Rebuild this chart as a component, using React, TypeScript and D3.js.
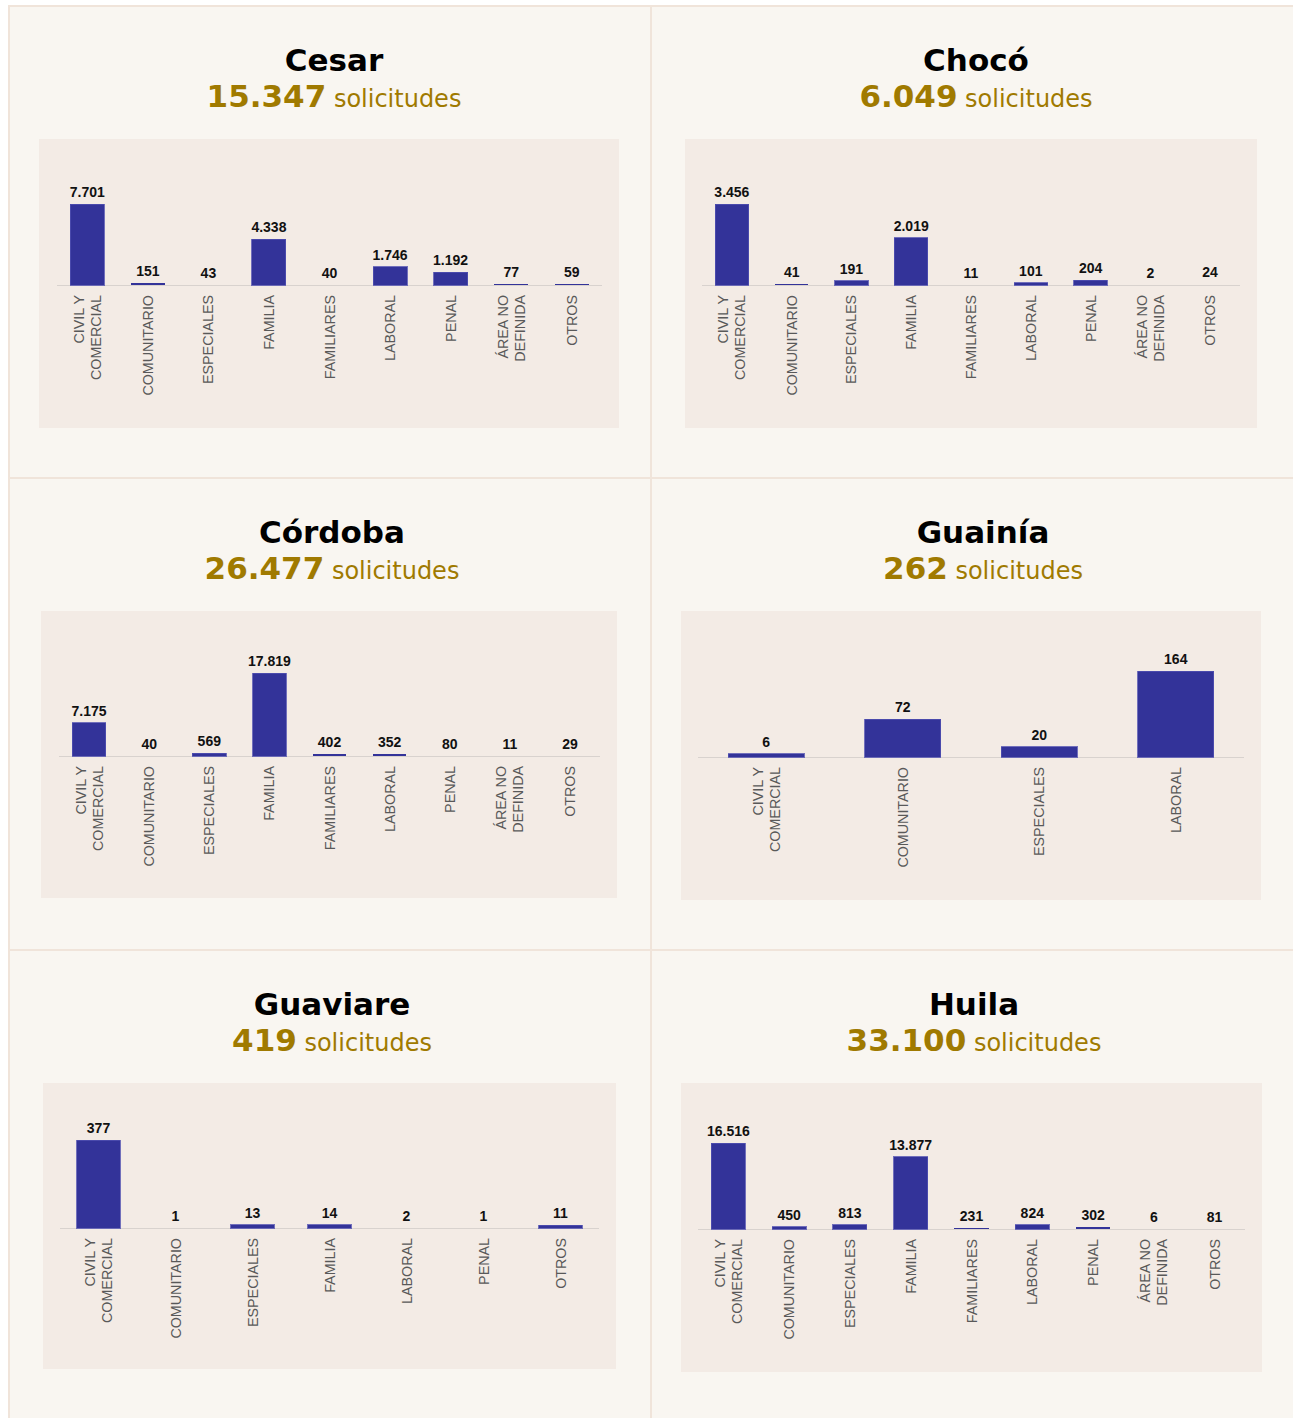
import React from "react";
import * as d3 from "d3";

// ---------- DATA ----------
const categoriesFull = [
  "CIVIL Y\nCOMERCIAL",
  "COMUNITARIO",
  "ESPECIALES",
  "FAMILIA",
  "FAMILIARES",
  "LABORAL",
  "PENAL",
  "ÁREA NO\nDEFINIDA",
  "OTROS",
];
const categoriesGuainia = ["CIVIL Y\nCOMERCIAL", "COMUNITARIO", "ESPECIALES", "LABORAL"];
const categoriesGuaviare = [
  "CIVIL Y\nCOMERCIAL",
  "COMUNITARIO",
  "ESPECIALES",
  "FAMILIA",
  "LABORAL",
  "PENAL",
  "OTROS",
];

const cesarValues = [7701, 151, 43, 4338, 40, 1746, 1192, 77, 59];
const chocoValues = [3456, 41, 191, 2019, 11, 101, 204, 2, 24];
const cordobaValues = [7175, 40, 569, 17819, 402, 352, 80, 11, 29];
const guainiaValues = [6, 72, 20, 164];
const guaviareValues = [377, 1, 13, 14, 2, 1, 11];
const huilaValues = [16516, 450, 813, 13877, 231, 824, 302, 6, 81];

const departments = ["Cesar", "Chocó", "Córdoba", "Guainía", "Guaviare", "Huila"];

// ---------- LAYOUT ----------
const W = 1293;
const H = 1418;
const BAR = "#333399";
const GOLD = "#a07a00";
const CELL_BG = "#f9f6f1";
const BORDER = "#f0e4da";
const PANEL_BG = "#f3ebe5";

const layouts = [
  { tx: 334, ty: 71, panel: [39, 139, 619, 428], axisY: 285, ax: [57, 602], maxH: 81 },
  { tx: 976, ty: 71, panel: [685, 139, 1257, 428], axisY: 285, ax: [702, 1240], maxH: 81 },
  { tx: 332, ty: 543, panel: [41, 611, 617, 898], axisY: 756, ax: [59, 600], maxH: 83 },
  { tx: 983, ty: 543, panel: [681, 611, 1261, 900], axisY: 757, ax: [698, 1244], maxH: 86 },
  { tx: 332, ty: 1015, panel: [43, 1083, 616, 1369], axisY: 1228, ax: [60, 599], maxH: 88 },
  { tx: 974, ty: 1015, panel: [681, 1083, 1262, 1372], axisY: 1229, ax: [698, 1245], maxH: 86 },
];

const seriesList = [
  { cats: categoriesFull, vals: cesarValues },
  { cats: categoriesFull, vals: chocoValues },
  { cats: categoriesFull, vals: cordobaValues },
  { cats: categoriesGuainia, vals: guainiaValues },
  { cats: categoriesGuaviare, vals: guaviareValues },
  { cats: categoriesFull, vals: huilaValues },
];

const locale = d3.formatLocale({
  decimal: ",",
  thousands: ".",
  grouping: [3],
  currency: ["", ""],
});
const fmt = locale.format(",d");

function Chart({ idx }: { idx: number }) {
  const L = layouts[idx];
  const { cats, vals } = seriesList[idx];
  const total = d3.sum(vals);
  const x = d3
    .scaleBand<string>()
    .domain(cats)
    .range([L.ax[0], L.ax[1]])
    .paddingInner(0.44)
    .paddingOuter(0.22);
  const y = d3
    .scaleLinear()
    .domain([0, d3.max(vals) as number])
    .range([L.axisY, L.axisY - L.maxH]);
  const [px0, py0, px1, py1] = L.panel;
  return (
    <g>
      <text
        x={L.tx}
        y={L.ty}
        textAnchor="middle"
        fontFamily="DejaVu Sans, Verdana, sans-serif"
        fontWeight="bold"
        fontSize={31}
        fill="#000"
      >
        {departments[idx]}
      </text>
      <text
        x={L.tx}
        y={L.ty + 36}
        textAnchor="middle"
        fontFamily="DejaVu Sans, Verdana, sans-serif"
        fill={GOLD}
      >
        <tspan fontWeight="bold" fontSize={31}>
          {fmt(total)}
        </tspan>
        <tspan fontSize={24}> solicitudes</tspan>
      </text>
      <rect x={px0} y={py0} width={px1 - px0} height={py1 - py0} fill={PANEL_BG} />
      <line x1={L.ax[0]} x2={L.ax[1]} y1={L.axisY + 0.5} y2={L.axisY + 0.5} stroke="#d8d2ce" strokeWidth={1} />
      {cats.map((c, i) => {
        const bx = x(c) as number;
        const bw = x.bandwidth();
        const top = y(vals[i]);
        const h = L.axisY - top;
        const cx = bx + bw / 2;
        const lines = c.split("\n");
        return (
          <g key={c}>
            {h >= 0.6 && (
              <rect
                x={bx}
                y={top}
                width={bw}
                height={h}
                fill={BAR}
                stroke={h > 2 ? "#5050b0" : "none"}
                strokeWidth={0.8}
                shapeRendering="crispEdges"
              />
            )}
            <text
              x={cx}
              y={top - 7}
              textAnchor="middle"
              fontFamily="Liberation Sans, Arial, sans-serif"
              fontWeight="bold"
              fontSize={14}
              fill="#111"
            >
              {fmt(vals[i])}
            </text>
            {lines.map((ln, j) => {
              const lx = cx + (j - (lines.length - 1) / 2) * 17;
              const ly = L.axisY + 10;
              return (
                <text
                  key={j}
                  transform={`translate(${lx},${ly}) rotate(-90)`}
                  textAnchor="end"
                  dominantBaseline="central"
                  fontFamily="Liberation Sans, Arial, sans-serif"
                  fontSize={14.3}
                  fill="#595959"
                >
                  {ln}
                </text>
              );
            })}
          </g>
        );
      })}
    </g>
  );
}

export default function App() {
  return (
    <svg
      width={W}
      height={H}
      style={{ position: "absolute", left: 0, top: 0, display: "block" }}
    >
      <rect x={0} y={0} width={W} height={H} fill="#fff" />
      <rect x={8} y={5} width={W - 8} height={H - 5} fill={CELL_BG} />
      {/* borders */}
      <rect x={8} y={5} width={W - 8} height={2} fill={BORDER} />
      <rect x={8} y={5} width={2} height={H - 5} fill={BORDER} />
      <rect x={650} y={5} width={2} height={H - 5} fill={BORDER} />
      <rect x={8} y={477} width={W - 8} height={2} fill={BORDER} />
      <rect x={8} y={949} width={W - 8} height={2} fill={BORDER} />
      {layouts.map((_, i) => (
        <Chart key={i} idx={i} />
      ))}
    </svg>
  );
}
